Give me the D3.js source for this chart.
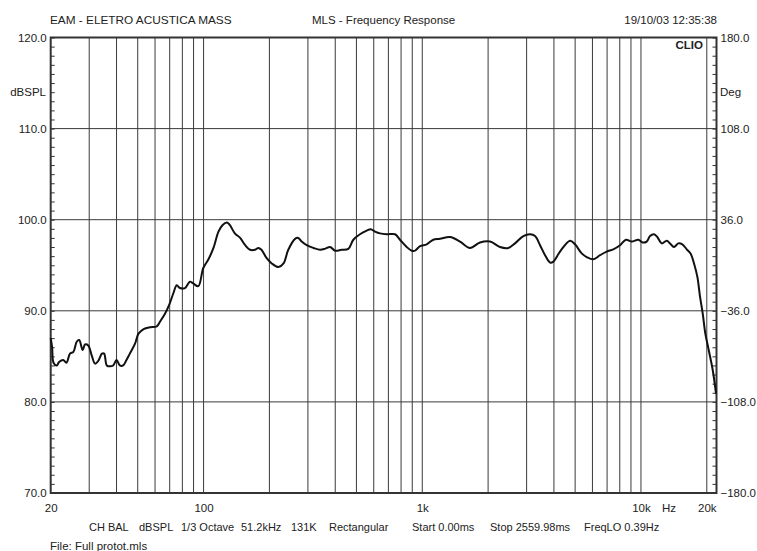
<!DOCTYPE html>
<html>
<head>
<meta charset="utf-8">
<script src="https://cdn.jsdelivr.net/npm/d3@7"></script>
<style>
  body { margin: 0; background: #fff; }
  text { font-family: "Liberation Sans", Arial, sans-serif; font-size: 11.5px; fill: #222; }
  .footer { font-size: 11px; }
</style>
</head>
<body>
<div id="chart"></div>
<script>
// frequency response (Hz / dBSPL)
var freqs = [20, 20.3, 20.6, 21.3, 21.9, 22.8, 23.6, 24.5, 25.4, 26.3, 27.0, 28.0, 28.7, 29.7, 30.8, 31.9,
  33.0, 34.3, 35.1, 36.1, 37.3, 38.6, 40.0, 41.4, 42.9, 44.4, 46.0, 48.6, 50.4, 53.2, 57.0, 61.1, 63.2,
  66.7, 70.0, 72.7, 75.4, 78.0, 82.2, 86.6, 89.7, 94.6, 99.7, 105, 111, 117, 122, 128, 132, 139, 147,
  155, 163, 172, 178, 184, 194, 205, 220, 232, 244, 262, 271, 281, 296, 318, 341, 359, 379, 399, 428,
  459, 484, 519, 557, 581, 608, 641, 688, 751, 791, 849, 895, 927, 977, 1048, 1123, 1206, 1339, 1488,
  1653, 1837, 2041, 2267, 2475, 2655, 2899, 3110, 3278, 3456, 3643, 3840, 3976, 4265, 4738, 4994, 5358,
  5648, 6055, 6498, 6972, 7474, 8022, 8545, 9073, 9725, 10184, 10622, 11000, 11474, 11877, 12440, 13113,
  13576, 14160, 14815, 15454, 16186, 16883, 17481, 18101, 18622, 19160, 19694, 20405, 21285, 22038];
var spl = [87.0, 86.0, 84.3, 84.0, 84.4, 84.6, 84.3, 85.3, 85.5, 86.6, 86.8, 85.7, 86.3, 86.2, 85.1, 84.2,
  84.5, 85.3, 85.3, 84.0, 83.9, 84.0, 84.6, 84.0, 84.0, 84.6, 85.3, 86.4, 87.5, 88.0, 88.2, 88.3, 88.8,
  89.7, 90.8, 91.9, 92.8, 92.5, 92.5, 93.2, 93.0, 92.7, 94.7, 95.6, 96.9, 98.7, 99.4, 99.7, 99.4, 98.5, 98.0,
  97.2, 96.7, 96.7, 96.9, 96.7, 95.8, 95.2, 94.8, 95.2, 96.7, 97.9, 98.0, 97.6, 97.2, 96.9, 96.7, 96.8, 97.0, 96.6, 96.7,
  96.8, 97.8, 98.4, 98.8, 98.95, 98.7, 98.5, 98.4, 98.4, 97.8, 97.0, 96.6, 96.6, 97.1, 97.3, 97.8, 97.9, 98.1, 97.6,
  96.9, 97.5, 97.6, 97.0, 96.9, 97.4, 98.2, 98.4, 98.2, 97.2, 96.1, 95.3, 95.4, 96.5, 97.7, 97.3, 96.3,
  95.9, 95.65, 96.1, 96.5, 96.75, 97.2, 97.8, 97.6, 97.8, 97.5, 97.6, 98.2, 98.4, 98.1, 97.4, 97.7,
  97.4, 97.0, 97.4, 97.3, 96.75, 96.25, 95.2, 93.75, 91.55, 89.7, 87.5, 85.7, 83.5, 80.9];

// axis labelling
var freqTicks = [20, 100, 1000, 10000, 20000];
var freqTickLabels = ["20", "100", "1k", "10k", "20k"];
var splTicks = [70, 80, 90, 100, 110, 120];
var degTicks = [-180, -108, -36, 36, 108, 180];
var headerTexts = ["EAM - ELETRO ACUSTICA MASS", "MLS - Frequency Response", "19/10/03 12:35:38"];
var footerItems = ["CH BAL", "dBSPL", "1/3 Octave", "51.2kHz", "131K", "Rectangular", "Start 0.00ms", "Stop 2559.98ms", "FreqLO 0.39Hz"];
var footerX = [89, 139, 181, 241, 291, 329, 412, 490, 584];
var fileName = "File: Full protot.mls";

(function(){
var W = 757, H = 551;
var plotL = 50.7, plotR = 716.5, plotT = 37.5, plotB = 493;

var svg = d3.select("#chart").append("svg")
  .attr("width", W).attr("height", H);
svg.append("rect").attr("width", W).attr("height", H).attr("fill", "#fff");

var x = d3.scaleLog().domain([20, 22150]).range([plotL, plotR]);
var y = d3.scaleLinear().domain([70, 120]).range([plotB, plotT]);
var yDeg = d3.scaleLinear().domain([-180, 180]).range([plotB, plotT]);

// vertical grid lines, 1-2-..-9 per decade
var gridFreqs = [];
[10, 100, 1000, 10000].forEach(function(dec){
  for(var k=1; k<10; k++){
    var f = k*dec;
    if(f > 20 && f <= 20000) gridFreqs.push(f);
  }
});
svg.append("g").selectAll("line").data(gridFreqs).enter().append("line")
  .attr("x1", function(d){ return x(d); }).attr("x2", function(d){ return x(d); })
  .attr("y1", plotT).attr("y2", plotB)
  .attr("stroke", "#3a3a3a").attr("stroke-width", 1);

// horizontal grid lines
svg.append("g").selectAll("line").data([80, 90, 100, 110]).enter().append("line")
  .attr("x1", plotL).attr("x2", plotR)
  .attr("y1", function(d){ return y(d); }).attr("y2", function(d){ return y(d); })
  .attr("stroke", "#3a3a3a").attr("stroke-width", 1);

// frame
svg.append("rect").attr("x", plotL).attr("y", plotT)
  .attr("width", plotR-plotL).attr("height", plotB-plotT)
  .attr("fill", "none").attr("stroke", "#333").attr("stroke-width", 2);

// minor ticks (inward) on both sides
var leftTicks = d3.axisRight(y).tickValues(d3.range(70, 121, 1)).tickSize(4).tickFormat("");
svg.append("g").attr("transform", "translate(" + plotL + ",0)").call(leftTicks)
  .call(function(g){ g.select(".domain").remove(); g.selectAll("line").attr("stroke", "#333"); });
var rightTicks = d3.axisLeft(yDeg).tickValues(d3.range(0, 51, 1).map(function(i){ return -180 + i*7.2; }))
  .tickSize(4).tickFormat("");
svg.append("g").attr("transform", "translate(" + plotR + ",0)").call(rightTicks)
  .call(function(g){ g.select(".domain").remove(); g.selectAll("line").attr("stroke", "#333"); });

// the response curve
var line = d3.line()
  .x(function(d, i){ return x(freqs[i]); })
  .y(function(d){ return y(d); })
  .curve(d3.curveCatmullRom);
svg.append("path").datum(spl)
  .attr("d", line)
  .attr("fill", "none").attr("stroke", "#111").attr("stroke-width", 2)
  .attr("stroke-linejoin", "round");

// axis labels
function plain(g){
  g.select(".domain").remove();
  g.selectAll("text").attr("font-size", null).attr("font-family", null).attr("fill", null);
}
var leftAxis = d3.axisLeft(y).tickValues(splTicks).tickSize(0).tickPadding(4).tickFormat(d3.format(".1f"));
svg.append("g").attr("transform", "translate(" + plotL + ",0)").call(leftAxis).call(plain);
var rightAxis = d3.axisRight(yDeg).tickValues(degTicks).tickSize(0).tickPadding(4).tickFormat(d3.format(".1f"));
svg.append("g").attr("transform", "translate(" + plotR + ",0)").call(rightAxis).call(plain);
var bottomAxis = d3.axisBottom(x).tickValues(freqTicks).tickSize(0).tickPadding(11)
  .tickFormat(function(d, i){ return freqTickLabels[i]; });
svg.append("g").attr("transform", "translate(0," + plotB + ")").call(bottomAxis).call(plain);

svg.append("text").attr("x", 669).attr("y", 508).attr("dy", "0.35em").attr("text-anchor", "middle").text("Hz");
svg.append("text").attr("x", 46).attr("y", 92).attr("dy", "0.35em").attr("text-anchor", "end").text("dBSPL");
svg.append("text").attr("x", 720).attr("y", 92).attr("dy", "0.35em").text("Deg");

// CLIO badge
svg.append("text").attr("x", 703).attr("y", 45).attr("dy", "0.35em").attr("text-anchor", "end")
  .attr("font-weight", "bold").text("CLIO");

// header
svg.append("text").attr("x", 50).attr("y", 20).attr("dy", "0.35em").style("font-size", "11.8px").text(headerTexts[0]);
svg.append("text").attr("x", 312).attr("y", 20).attr("dy", "0.35em").text(headerTexts[1]);
svg.append("text").attr("x", 717).attr("y", 20).attr("dy", "0.35em").attr("text-anchor", "end").text(headerTexts[2]);

// footer
svg.append("g").selectAll("text").data(footerItems).enter().append("text")
  .attr("class", "footer")
  .attr("x", function(d, i){ return footerX[i]; })
  .attr("y", 527).attr("dy", "0.35em")
  .text(function(d){ return d; });
svg.append("text").attr("x", 50).attr("y", 546).attr("dy", "0.35em").text(fileName);
})();
</script>
</body>
</html>
